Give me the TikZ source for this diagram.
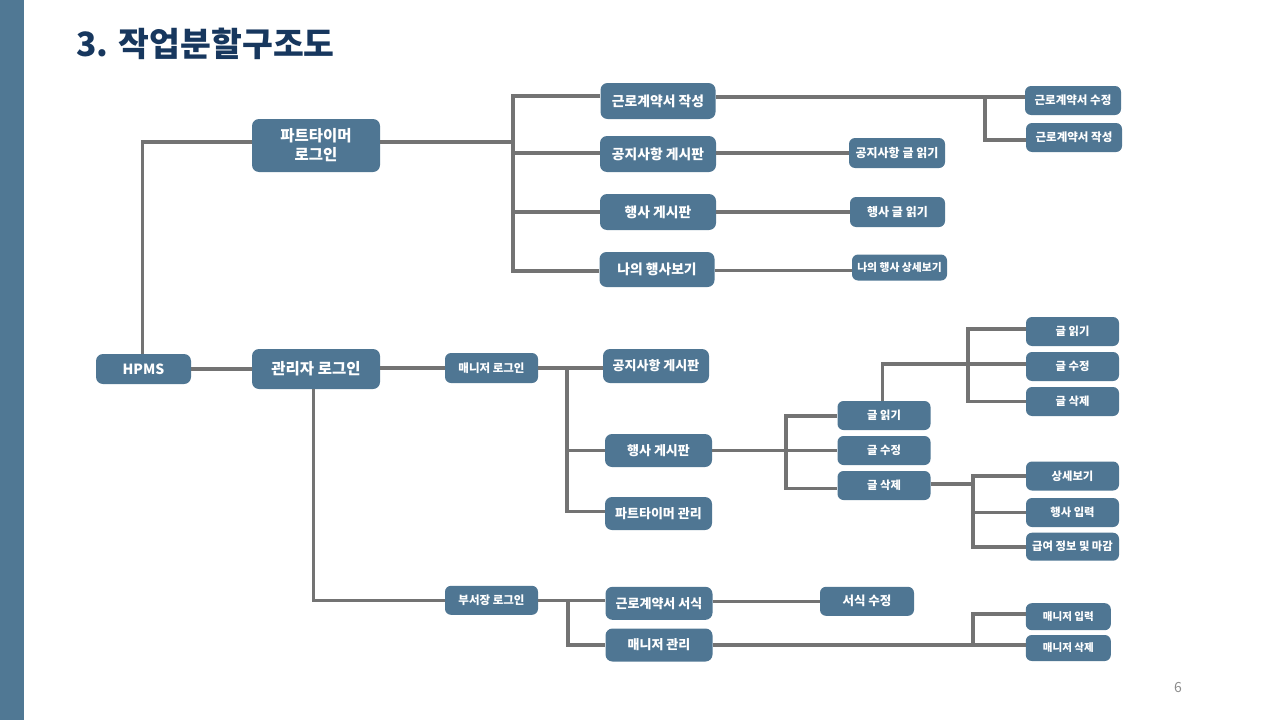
\documentclass[tikz,border=0pt]{standalone}
\usepackage{fontspec}
\setmainfont{Noto Sans CJK KR}
\definecolor{boxblue}{RGB}{79,118,147}
\definecolor{barblue}{RGB}{80,120,148}
\definecolor{linegray}{RGB}{115,115,115}
\definecolor{titleblue}{RGB}{23,55,94}
\definecolor{pagegray}{RGB}{140,140,140}
\tikzset{
  box/.style={rounded corners=7pt, fill=boxblue, text=white, inner sep=0pt, align=center},
  fs/.style={font=\bfseries\fontsize{#1}{#1}\selectfont},
  bL/.style={box, fs=15.5},
  bM/.style={box, fs=13},
  bS/.style={box, rounded corners=6pt, fs=11.5},
  conn/.style={draw=linegray, line width=3.6pt},
}
\begin{document}
\begin{tikzpicture}[x=1pt,y=-1pt]
\useasboundingbox (0,0) rectangle (1280,720);
\fill[barblue] (0,0) rectangle (24,720);
\node[anchor=west, text=titleblue, font=\bfseries\fontsize{33.5}{38}\selectfont] (title) at (73,44) {3. 작업분할구조도};
\node[text=pagegray, font=\fontsize{14}{16}\selectfont] (page) at (1178,688) {6};

% level 0/1
\node[bL, fs=14, minimum width=95pt, minimum height=30pt] (hpms) at (143.5,369) {HPMS};
\node[bL, minimum width=128pt, minimum height=53pt, font=\bfseries\fontsize{15.5}{19}\selectfont] (pt) at (316,145.5) {파트타이머\\로그인};
\node[bL, minimum width=128pt, minimum height=40pt] (adm) at (316,369) {관리자 로그인};

% part-time branch
\node[bM, fs=13.8, minimum width=115pt, minimum height=36pt] (a1) at (658,101) {근로계약서 작성};
\node[bM, fs=13.8, minimum width=116pt, minimum height=36pt] (a2) at (658,154) {공지사항 게시판};
\node[bM, fs=13.8, minimum width=116pt, minimum height=36pt] (a3) at (658,212) {행사 게시판};
\node[bM, fs=13.8, minimum width=115pt, minimum height=35pt] (a4) at (657,269.5) {나의 행사보기};
\node[bS, fs=12, minimum width=96pt, minimum height=30pt] (b2) at (897,153) {공지사항 글 읽기};
\node[bS, fs=12, minimum width=95pt, minimum height=30pt] (b3) at (897.5,212) {행사 글 읽기};
\node[bS, fs=10.8, minimum width=95pt, minimum height=26pt] (b4) at (899.5,267.5) {나의 행사 상세보기};
\node[bS, minimum width=96pt, minimum height=29pt] (c1) at (1073,100.5) {근로계약서 수정};
\node[bS, minimum width=96pt, minimum height=29pt] (c2) at (1074,137.5) {근로계약서 작성};

% manager branch
\node[bS, minimum width=93pt, minimum height=30pt] (mgr) at (491.5,368) {매니저 로그인};
\node[bM, minimum width=106pt, minimum height=34pt] (m1) at (656,366) {공지사항 게시판};
\node[bM, minimum width=107pt, minimum height=33pt] (m2) at (658.5,450.5) {행사 게시판};
\node[bM, minimum width=107pt, minimum height=33pt] (m3) at (658.5,513.5) {파트타이머 관리};
\node[bS, fs=11.3, minimum width=93pt, minimum height=29pt] (e1) at (884,415.5) {글 읽기};
\node[bS, fs=11.3, minimum width=93pt, minimum height=29pt] (e2) at (884,450.5) {글 수정};
\node[bS, fs=11.3, minimum width=93pt, minimum height=29pt] (e3) at (884,485.5) {글 삭제};
\node[bS, fs=11.3, minimum width=93pt, minimum height=29pt] (f1) at (1072.5,331.5) {글 읽기};
\node[bS, fs=11.3, minimum width=93pt, minimum height=29pt] (f2) at (1072.5,366.5) {글 수정};
\node[bS, fs=11.3, minimum width=93pt, minimum height=29pt] (f3) at (1072.5,401.5) {글 삭제};
\node[bS, fs=11.3, minimum width=93pt, minimum height=29pt] (g1) at (1072.5,476) {상세보기};
\node[bS, fs=11.3, minimum width=93pt, minimum height=29pt] (g2) at (1072.5,512.5) {행사 입력};
\node[bS, fs=11.3, minimum width=93pt, minimum height=28pt] (g3) at (1072.5,546.7) {급여 정보 및 마감};

% department head branch
\node[bS, minimum width=93pt, minimum height=29pt] (dept) at (491.5,600.3) {부서장 로그인};
\node[bM, minimum width=107pt, minimum height=33pt] (d1) at (659,603.3) {근로계약서 서식};
\node[bM, minimum width=107pt, minimum height=33pt] (d2) at (659,645) {매니저 관리};
\node[bS, fs=12.5, minimum width=94pt, minimum height=29pt] (d3) at (867,601.3) {서식 수정};
\node[bS, fs=10.5, minimum width=85pt, minimum height=27pt] (h1) at (1068.3,616.7) {매니저 입력};
\node[bS, fs=10.5, minimum width=85pt, minimum height=26pt] (h2) at (1068.3,648) {매니저 삭제};

% bus junctions
\coordinate (tb) at (513,142);
\coordinate (cb) at (985,97);
\coordinate (mb) at (567,368);
\coordinate (eb) at (786,450.5);
\coordinate (fb) at (968,364);
\coordinate (gb) at (973,484);
\coordinate (db) at (567.7,600.3);
\coordinate (hb) at (972.7,645);

% connectors
\draw[conn] ([xshift=-1pt]hpms.north) |- ([yshift=3.5pt]pt.west);
\draw[conn] (hpms.east) -- (adm.west);
\draw[conn] ([yshift=3.5pt]pt.east) -- (tb);
\draw[conn] (tb) |- ([yshift=5pt]a1.west);
\draw[conn] (tb) |- ([yshift=1pt]a2.west);
\draw[conn] (tb) |- (a3.west);
\draw[conn] (tb) |- ([yshift=-1.5pt]a4.west);
\draw[conn] ([yshift=4pt]a1.east) -- ([yshift=3.5pt]c1.west);
\draw[conn] (cb) |- ([yshift=-2.5pt]c2.west);
\draw[conn] ([yshift=1pt]a2.east) -- (b2.west);
\draw[conn] (a3.east) -- (b3.west);
\draw[conn] ([yshift=-1pt]a4.east) -- ([yshift=-3pt]b4.west);

\draw[conn] ([yshift=1pt]adm.east) -- (mgr.west);
\draw[conn] (mgr.east) -- ([yshift=-2pt]m1.west);
\draw[conn] (mb) |- (m2.west);
\draw[conn] (mb) |- ([yshift=2pt]m3.west);
\draw[conn] (m2.east) -- (e2.west);
\draw[conn] (eb) |- ([yshift=-0.5pt]e1.west);
\draw[conn] (eb) |- ([yshift=-3pt]e3.west);
\draw[conn] ([xshift=-1.5pt]e1.north) |- ([yshift=2.5pt]f2.west);
\draw[conn] (fb) |- ([yshift=2.5pt]f1.west);
\draw[conn] (fb) |- (f3.west);
\draw[conn] ([yshift=1.5pt]e3.east) -- (gb);
\draw[conn] (gb) |- (g1.west);
\draw[conn] (gb) |- (g2.west);
\draw[conn] (gb) |- (g3.west);

\draw[conn] ([xshift=-2.5pt]adm.south) |- (dept.west);
\draw[conn] (dept.east) -- ([yshift=3pt]d1.west);
\draw[conn] (db) |- (d2.west);
\draw[conn] ([yshift=2pt]d1.east) -- (d3.west);
\draw[conn] (d2.east) -- ([yshift=3pt]h2.west);
\draw[conn] (hb) |- ([yshift=2.5pt]h1.west);
\end{tikzpicture}
\end{document}
